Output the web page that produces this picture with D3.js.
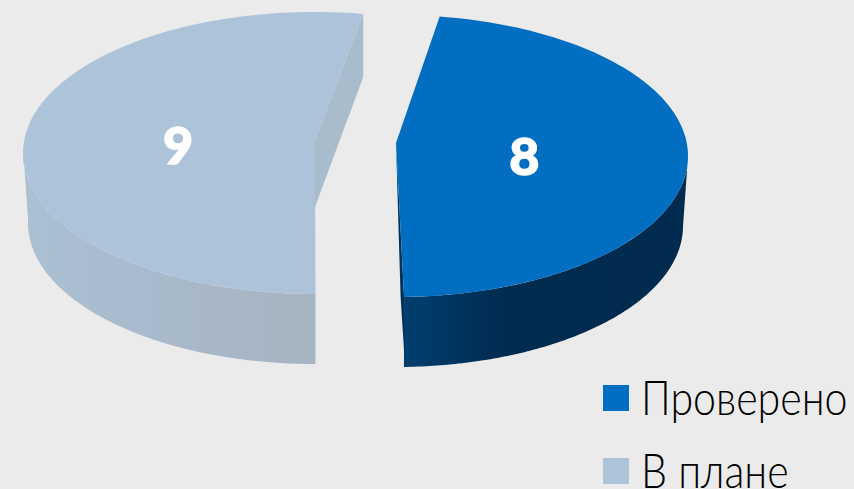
<!DOCTYPE html>
<html><head><meta charset="utf-8">
<script src="https://cdn.jsdelivr.net/npm/d3@7"></script>
<style>html,body{margin:0;padding:0;background:#ebebeb;overflow:hidden}svg{display:block}</style>
</head><body><svg id="c" width="854" height="489"></svg>
<script>
const categories = ["Проверено", "В плане"];
const values = [8, 9];
const colors = ["#026ec1", "#adc3da"];

const W = 854, H = 489;
const svg = d3.select("#c");
svg.append("rect").attr("width", W).attr("height", H).attr("fill", "#ebebeb");

const rad = d3.scaleLinear().domain([0, 360]).range([0, 2 * Math.PI]);
const pie = d3.pie().sort(null).startAngle(rad(8.6)).endAngle(rad(368.6));
const arcs = pie(values);

// per-slice geometry of the tilted, exploded disc
const geo = [
  {cx:396, cy:156, rx:292, ry:141, twist:0, bend:0.4, apexLift:13, depth:70, inset:5, labelR:0.44, labelDy:-4,
   sideStops:["#003f71","#002c50","#002b4e"], cutFill:"#00325a"},
  {cx:315, cy:153, rx:292, ry:141, twist:0.9, bend:1.9, apexLift:13, depth:70, inset:5, labelR:0.47, labelDy:-4,
   sideStops:["#abc0d3","#a8b9ca","#a7b4c1"], cutFill:"#a9bccc"}
];
const cutDepth = 65;

function pt(g, a, lower) {
  const t = a + rad(g.bend) * (1 - Math.cos(a)) / 2 + rad(g.twist) * (1 + Math.cos(a)) / 2;
  const rx = lower ? g.rx - g.inset : g.rx;
  const cy = lower ? g.cy + g.depth : g.cy;
  return [g.cx + rx * Math.sin(t), cy - g.ry * Math.cos(t)];
}
const samples = (a0, a1) => d3.range(0, 121).map(i => a0 + (a1 - a0) * i / 120);
const line = d3.line();

const defs = svg.append("defs");
geo.forEach((g, i) => {
  const lg = defs.append("linearGradient").attr("id", "side" + i)
    .attr("gradientUnits", "userSpaceOnUse")
    .attr("x1", i === 0 ? 400 : 28).attr("x2", i === 0 ? 684 : 315).attr("y1", 0).attr("y2", 0);
  const offs = i === 0 ? [0, 0.35, 1] : [0, 0.5, 1];
  g.sideStops.forEach((c, k) => lg.append("stop").attr("offset", offs[k]).attr("stop-color", c));
});

arcs.forEach((d, i) => {
  const g = geo[i], G = svg.append("g");
  const apex = [g.cx, g.cy - g.apexLift];
  const a0 = Math.max(d.startAngle, rad(90)), a1 = Math.min(d.endAngle, rad(270));
  const rim = samples(a0, a1);
  const wall = rim.map(a => pt(g, a, false)).concat(rim.slice().reverse().map(a => pt(g, a, true)));
  G.append("path").attr("fill", "url(#side" + i + ")").attr("d", line(wall) + "Z");
  if (i === 1) {
    const s = pt(g, d.endAngle, false);
    G.append("path").attr("fill", g.cutFill).attr("d", line([
      s, [s[0], s[1] + cutDepth - 2], [apex[0], apex[1] + cutDepth + 2], apex]) + "Z");
  } else {
    // thin dark cut face bowing out to the left of the blue slice
    const e0 = pt(g, d.endAngle, false), e1 = pt(g, d.endAngle, true);
    G.append("path").attr("fill", g.cutFill).attr("d", line([
      apex, [e0[0], e0[1]], [e0[0] + 1, e1[1]], [e0[0] - 3.5, e0[1]]]) + "Z");
  }
  const top = samples(d.startAngle, d.endAngle).map(a => pt(g, a, false));
  G.append("path").attr("fill", colors[i]).attr("d", line([apex].concat(top)) + "Z");
});

// value labels
arcs.forEach((d, i) => {
  const g = geo[i], m = (d.startAngle + d.endAngle) / 2;
  svg.append("text")
    .attr("x", g.cx + g.rx * g.labelR * Math.sin(m))
    .attr("y", g.cy - g.ry * g.labelR * Math.cos(m) + g.labelDy + 19)
    .attr("text-anchor", "middle")
    .attr("font-family", "Lato, 'Open Sans', sans-serif")
    .attr("font-weight", 900).attr("font-size", 52).attr("fill", "#ffffff")
    .attr("stroke", "#ffffff").attr("stroke-width", 1.4).attr("stroke-linejoin", "round")
    .text(d.value);
});

// legend
const legendY = d3.scalePoint().domain(categories).range([385, 458]);
const legendX = 641, legendFit = 0.875;
categories.forEach((c, i) => {
  svg.append("rect").attr("x", 603).attr("y", legendY(c)).attr("width", 26).attr("height", 26).attr("fill", colors[i]);
  svg.append("text")
    .attr("transform", `translate(${legendX},${legendY(c) + 30}) scale(${legendFit},1)`)
    .attr("font-family", "Lato, 'Open Sans', sans-serif").attr("font-weight", 300)
    .attr("font-size", 47).attr("fill", "#000000")
    .text(c);
});
</script></body></html>
